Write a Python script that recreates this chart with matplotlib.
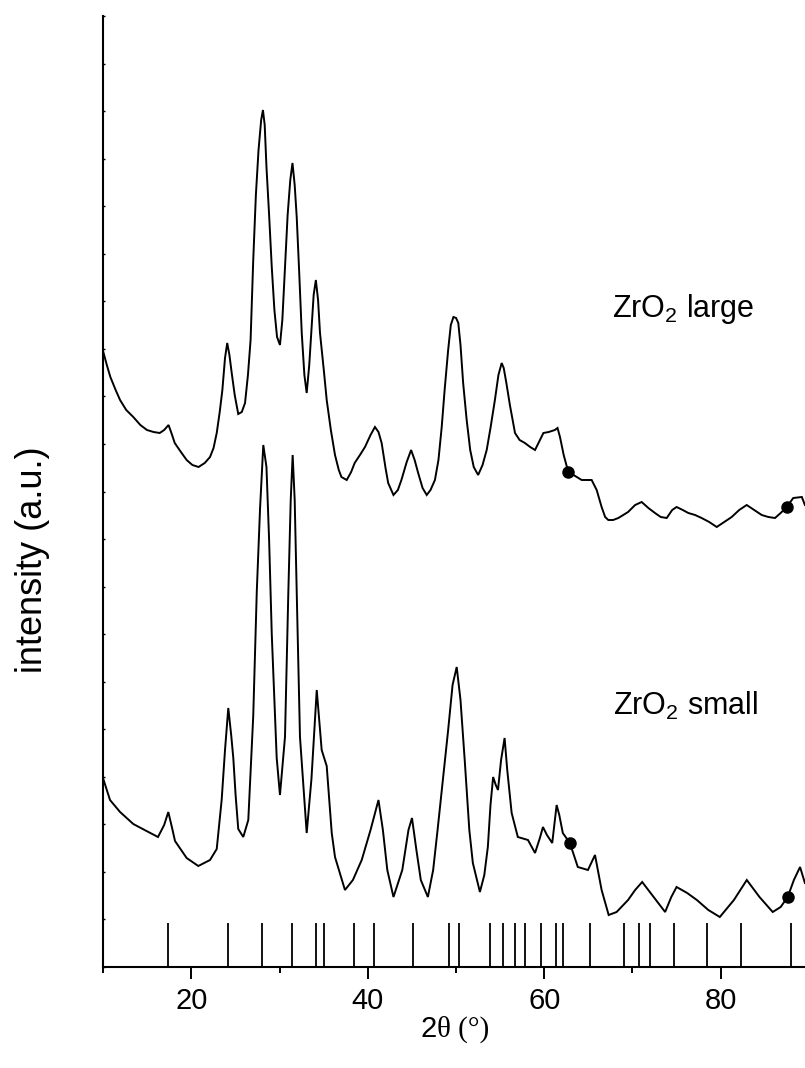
import matplotlib
matplotlib.use('Agg')
import matplotlib.pyplot as plt
import numpy as np

# ---------------- data ----------------
two_theta_large = [10.0, 10.4, 10.8, 11.4, 11.9, 12.6, 13.4, 14.2, 14.95, 15.7, 16.4, 16.9, 17.4, 17.8,
                   18.1, 18.8, 19.45, 20.1, 20.8, 21.5, 22.1, 22.5, 22.86, 23.2, 23.5, 23.8, 24.05, 24.3,
                   24.56, 24.9, 25.3, 25.7, 26.07, 26.4, 26.7, 27.0, 27.3, 27.6, 27.9, 28.1, 28.3, 28.5,
                   28.8, 29.1, 29.4, 29.7, 30.03, 30.3, 30.6, 30.9, 31.2, 31.45, 31.7, 31.93, 32.2, 32.5,
                   32.8, 33.06, 33.35, 33.6, 33.85, 34.1, 34.35, 34.57, 35.0, 35.33, 35.8, 36.27, 36.7,
                   37.0, 37.6, 38.1, 38.5, 39.1, 39.67, 40.3, 40.8, 41.2, 41.56, 42.0, 42.3, 42.9, 43.4,
                   43.8, 44.4, 44.9, 45.3, 45.7, 46.2, 46.67, 47.1, 47.6, 48.0, 48.37, 48.7, 49.1, 49.4,
                   49.7, 50.0, 50.25, 50.5, 50.8, 51.2, 51.6, 52.0, 52.5, 53.0, 53.47, 53.9, 54.4, 54.8,
                   55.17, 55.4, 55.7, 56.1, 56.68, 57.2, 57.8, 58.4, 58.95, 59.4, 59.9, 60.5, 61.2, 61.5,
                   61.78, 62.2, 62.72, 63.5, 64.24, 64.8, 65.37, 65.94, 66.5, 66.9, 67.26, 67.8, 68.4,
                   69.5, 70.3, 71.04, 71.8, 72.55, 73.2, 73.88, 74.5, 75.0, 75.7, 76.33, 77.1, 77.84,
                   78.7, 79.55, 80.4, 81.25, 82.1, 82.95, 83.8, 84.65, 85.4, 86.16, 86.8, 87.48, 88.23,
                   89.2, 89.55]
intensity_large = [615, 602, 590, 577, 567, 557, 550, 542, 537, 535, 534, 537, 542, 532,
                   524, 515, 507, 502, 500, 504, 510, 519, 534, 555, 577, 609, 624, 612,
                   594, 572, 553, 555, 564, 592, 627, 707, 772, 817, 847, 857, 842, 800,
                   752, 700, 657, 630, 622, 647, 700, 752, 787, 804, 782, 750, 697, 634,
                   592, 574, 602, 637, 672, 687, 667, 634, 597, 567, 537, 512, 497,
                   490, 487, 495, 504, 512, 520, 532, 540, 535, 524, 499, 484, 472, 477,
                   487, 505, 517, 507, 494, 479, 472, 477, 487, 507, 540, 577, 617, 642,
                   650, 649, 644, 622, 584, 547, 517, 500, 492, 502, 517, 539, 567, 592,
                   604, 599, 584, 562, 534, 527, 524, 520, 517, 525, 534, 535, 537, 539,
                   530, 512, 495, 491, 487, 487, 487, 477, 460, 450, 447, 447, 449,
                   455, 462, 465, 459, 454, 450, 449, 457, 460, 457, 454, 452, 449,
                   445, 440, 445, 450, 457, 462, 457, 452, 450, 449, 454, 460, 469,
                   470, 462]

two_theta_small = [10.0, 10.76, 11.9, 13.4, 14.9, 16.2, 16.9, 17.37, 17.8, 18.13, 19.45, 20.77, 22.1,
                   22.86, 23.42, 23.8, 24.17, 24.5, 24.74, 25.0, 25.3, 25.87, 26.44, 27.0, 27.4, 27.77,
                   28.14, 28.5, 28.8, 29.1, 29.66, 30.03, 30.6, 30.98, 31.25, 31.47, 31.7, 31.93, 32.3,
                   33.06, 33.6, 34.2, 34.76, 35.33, 35.9, 36.27, 37.4, 38.3, 39.3, 40.3, 41.2, 41.7,
                   42.2, 42.9, 43.9, 44.6, 45.0, 45.5, 46.0, 46.8, 47.4, 47.9, 48.5, 49.1, 49.6, 50.07,
                   50.5, 51.0, 51.5, 51.9, 52.7, 53.2, 53.6, 53.9, 54.2, 54.5, 54.75, 55.1, 55.5, 55.8,
                   56.3, 57.0, 58.15, 58.95, 59.5, 59.85, 60.3, 60.9, 61.4, 61.7, 62.1, 62.9, 63.8,
                   64.95, 65.75, 66.5, 67.3, 68.2, 69.5, 70.3, 71.1, 72.4, 73.7, 74.4, 75.0, 76.2,
                   77.3, 78.6, 79.9, 81.5, 82.96, 84.4, 85.9, 86.8, 87.6, 88.3, 89.0, 89.55]
intensity_small = [188, 167, 155, 143, 136, 130, 142, 155, 139, 126, 109, 101, 107,
                   118, 167, 217, 259, 232, 209, 172, 138, 130, 147, 251, 375, 458,
                   522, 500, 427, 333, 209, 172, 230, 375, 467, 512, 467, 375, 230,
                   134, 188, 277, 217, 201, 134, 110, 77, 87, 107, 137, 167, 137,
                   97, 70, 97, 137, 149, 117, 87, 70, 97, 137, 187, 237, 282, 300,
                   267, 204, 137, 104, 75, 92, 120, 162, 190, 182, 177, 207, 229, 197,
                   154, 130, 127, 114, 129, 140, 132, 124, 162, 152, 134, 124, 100,
                   97, 112, 77, 52, 55, 67, 77, 85, 70, 55, 70, 80, 74,
                   67, 57, 50, 67, 87, 70, 55, 60, 70, 87, 100, 84]

marker_theta_large = [62.72, 87.48]
marker_int_large = [495, 460]
marker_theta_small = [62.9, 87.6]
marker_int_small = [124, 70]

reference_lines = [17.35, 24.13, 27.96, 31.38, 34.08, 35.05, 38.47, 40.71, 45.10, 49.18, 50.31,
                   53.88, 55.31, 56.73, 57.86, 59.59, 61.33, 62.14, 65.15, 69.08, 70.77, 72.04,
                   74.69, 78.42, 82.35, 87.96]
reference_height = 44

labels = ['ZrO$_2$ large', 'ZrO$_2$ small']
label_pos = [(67.64, 650), (67.79, 252)]

# ---------------- style ----------------
plt.rcParams['font.family'] = ['Liberation Sans', 'DejaVu Sans']
plt.rcParams['mathtext.fontset'] = 'custom'
plt.rcParams['mathtext.rm'] = 'Liberation Sans'
plt.rcParams['mathtext.it'] = 'Liberation Sans:italic'
plt.rcParams['mathtext.bf'] = 'Liberation Sans:bold'

W, H = 805, 1068
fig = plt.figure(figsize=(W / 100, H / 100), dpi=100)
ax = fig.add_axes([103.3 / W, 101 / H, (W - 103.3) / W, 951 / H])

ax.plot(two_theta_large, intensity_large, color='black', lw=1.4, solid_joinstyle='miter')
ax.plot(two_theta_small, intensity_small, color='black', lw=1.4, solid_joinstyle='miter')
ax.plot(marker_theta_large, marker_int_large, 'o', color='black', ms=8)
ax.plot(marker_theta_small, marker_int_small, 'o', color='black', ms=8)
ax.vlines(reference_lines, 0, reference_height, color='black', lw=1.3)

for txt, (x, y) in zip(labels, label_pos):
    ax.text(x, y, txt, fontsize=22, ha='left', va='baseline')

ax.set_xlim(10, 89.56)
ax.set_ylim(0, 951)

for s in ['top', 'right']:
    ax.spines[s].set_visible(False)
for s in ['left', 'bottom']:
    ax.spines[s].set_linewidth(1.5)

ax.set_xticks([20, 40, 60, 80])
ax.set_xticks([10, 30, 50, 70], minor=True)
ax.tick_params(axis='x', which='major', direction='out', length=8.5, width=1.4,
               labelsize=21, pad=6)
ax.tick_params(axis='x', which='minor', direction='out', length=4.3, width=1.4)
ax.set_yticks(np.linspace(0, 951, 21))
ax.set_yticklabels([])
ax.tick_params(axis='y', which='major', direction='in', length=1.5, width=1.0)

# axis labels
fig.text(437 / W, 1 - 1037 / H, '2', fontsize=21, ha='right', va='baseline',
         family=['Liberation Sans'])
fig.text(437 / W, 1 - 1037 / H, '\u03b8 (\u00b0)', fontsize=21, ha='left', va='baseline',
         family=['Liberation Serif'])
fig.text(32 / W, 1 - 560 / H, 'intensity (a.u.)', fontsize=26, rotation=90,
         ha='center', va='center')

fig.savefig('out.png', dpi=100)
